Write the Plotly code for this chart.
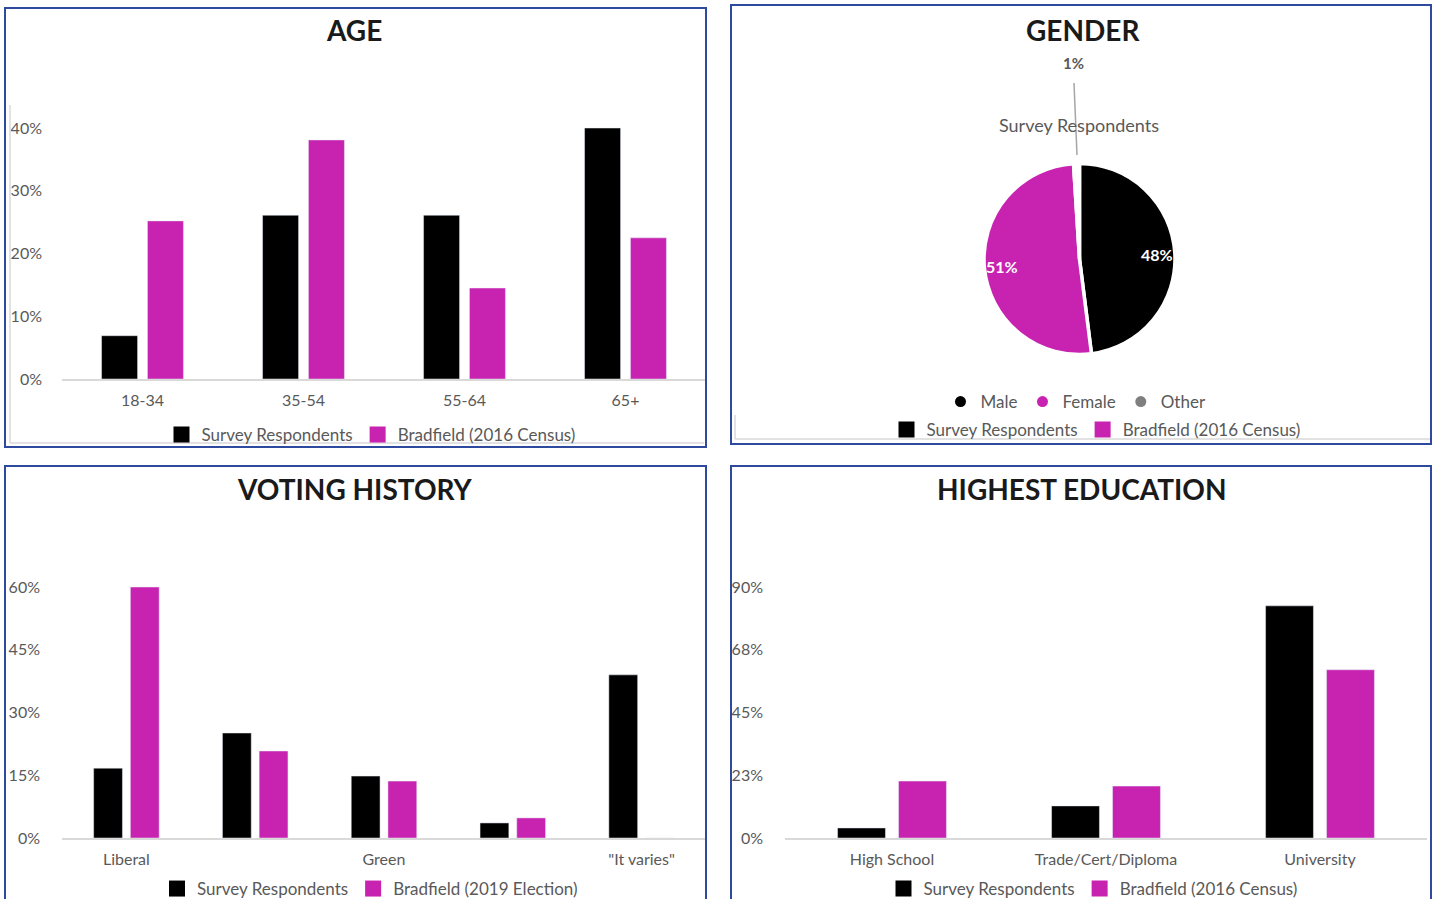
import math
import plotly.graph_objects as go

# ---------------- data ----------------
age_categories = ["18-34", "35-54", "55-64", "65+"]
age_survey = [0.069, 0.261, 0.261, 0.400]
age_census = [0.252, 0.381, 0.145, 0.225]

gender_labels = ["Male", "Female", "Other"]
gender_survey = [48, 51, 1]

vote_categories = ["Liberal", "Labor", "Green", "Other", "\"It varies\""]
vote_shown_ticks = ["Liberal", "Green", "\"It varies\""]
vote_survey = [0.167, 0.251, 0.148, 0.036, 0.390]
vote_election = [0.600, 0.208, 0.136, 0.048, 0.0]

edu_categories = ["High School", "Trade/Cert/Diploma", "University"]
edu_survey = [0.036, 0.115, 0.832]
edu_census = [0.204, 0.186, 0.603]
edu_tickvals = [0, 0.225, 0.45, 0.675, 0.9]
edu_ticktext = ["0%", "23%", "45%", "68%", "90%"]

age_ticks = [0, 0.1, 0.2, 0.3, 0.4]
vote_ticks = [0, 0.15, 0.30, 0.45, 0.60]

series_survey = "Survey Respondents"
series_census_2016 = "Bradfield (2016 Census)"
series_election_2019 = "Bradfield (2019 Election)"

# ---------------- style ----------------
W, H = 1437, 899
BLACK = "#000000"
MAGENTA = "#C822B0"
OTHER_GRAY = "#7F7F7F"
GRAY_TXT = "#595959"
BORDER = "#2D4A9E"
FAINT = "#D9D9D9"
FONT = "Lato"


def X(px):
    return px / W


def Y(py):
    return 1 - py / H


fig = go.Figure()

# ---- AGE bars ----
fig.add_trace(go.Bar(x=age_categories, y=age_survey, name=series_survey,
                     marker_color=BLACK, xaxis="x", yaxis="y", showlegend=False))
fig.add_trace(go.Bar(x=age_categories, y=age_census, name=series_census_2016,
                     marker_color=MAGENTA, xaxis="x", yaxis="y", showlegend=False))

# ---- VOTING bars ----
fig.add_trace(go.Bar(x=vote_categories, y=vote_survey, name=series_survey,
                     marker_color=BLACK, xaxis="x2", yaxis="y2", showlegend=False))
fig.add_trace(go.Bar(x=vote_categories, y=vote_election, name=series_election_2019,
                     marker_color=MAGENTA, xaxis="x2", yaxis="y2", showlegend=False))

# ---- EDUCATION bars ----
fig.add_trace(go.Bar(x=edu_categories, y=edu_survey, name=series_survey,
                     marker_color=BLACK, xaxis="x3", yaxis="y3", showlegend=False))
fig.add_trace(go.Bar(x=edu_categories, y=edu_census, name=series_census_2016,
                     marker_color=MAGENTA, xaxis="x3", yaxis="y3", showlegend=False))

# ---- GENDER pie ----
pie_cx, pie_cy, pie_r = 1079.5, 259, 95.5
pie_colors = [BLACK, MAGENTA, "#FFFFFF"]
fig.add_trace(go.Pie(
    labels=gender_labels, values=gender_survey, sort=False, direction="clockwise",
    rotation=0, marker=dict(colors=pie_colors, line=dict(color="white", width=3.5)),
    textinfo="none", hoverinfo="label+percent", showlegend=False,
    domain=dict(x=[X(pie_cx - pie_r), X(pie_cx + pie_r)],
                y=[Y(pie_cy + pie_r), Y(pie_cy - pie_r)]),
))


# ---- legend entries (square / circle symbols) ----
def legend_entry(name, color, legend, symbol="square", size=18):
    fig.add_trace(go.Scatter(x=[None], y=[None], mode="markers", name=name,
                             marker=dict(symbol=symbol, size=size, color=color),
                             xaxis="x", yaxis="y", legend=legend, hoverinfo="skip"))


legend_entry(series_survey, BLACK, "legend")
legend_entry(series_census_2016, MAGENTA, "legend")
for lab, col in zip(gender_labels, [BLACK, MAGENTA, OTHER_GRAY]):
    legend_entry(lab, col, "legend3", symbol="circle", size=11)
legend_entry(series_survey, BLACK, "legend2")
legend_entry(series_census_2016, MAGENTA, "legend2")
legend_entry(series_survey, BLACK, "legend4")
legend_entry(series_election_2019, MAGENTA, "legend4")
legend_entry(series_survey, BLACK, "legend5")
legend_entry(series_census_2016, MAGENTA, "legend5")

legend_font = dict(family=FONT, size=17, color=GRAY_TXT)


def legend_cfg(cx, cy):
    return dict(orientation="h", x=X(cx), y=Y(cy), xanchor="center", yanchor="middle",
                font=legend_font, bgcolor="rgba(0,0,0,0)", itemclick=False,
                itemdoubleclick=False, tracegroupgap=0, itemsizing="trace")


tick_font = dict(family=FONT, size=16, color=GRAY_TXT)


def xax(domain_px, anchor):
    return dict(domain=[X(domain_px[0]), X(domain_px[1])], anchor=anchor,
                showline=True, linecolor=FAINT, linewidth=2, showgrid=False,
                zeroline=False, ticks="", tickfont=tick_font, ticklabelstandoff=6,
                fixedrange=True)


def yax(top_px, bottom_px, rng, tickvals, ticktext, standoff, anchor):
    return dict(domain=[Y(bottom_px), Y(top_px)], range=rng, anchor=anchor,
                showline=False, showgrid=False, zeroline=False, ticks="",
                tickmode="array", tickvals=tickvals, ticktext=ticktext,
                tickfont=tick_font, ticklabelstandoff=standoff, fixedrange=True)


pct = lambda vals: [f"{v:.0%}" for v in vals]

xaxis2 = xax((62, 706), "y2")
xaxis2.update(tickmode="array", tickvals=vote_shown_ticks, ticktext=vote_shown_ticks)

fig.update_layout(
    width=W, height=H, margin=dict(l=0, r=0, t=0, b=0, autoexpand=False),
    paper_bgcolor="white", plot_bgcolor="white",
    barmode="group", bargap=0.43, bargroupgap=0.215,
    font=dict(family=FONT, color=GRAY_TXT),
    xaxis=xax((62, 706), "y"),
    yaxis=yax(105, 379, [0, 0.4367], age_ticks, pct(age_ticks), 19, "x"),
    xaxis2=xaxis2,
    yaxis2=yax(568, 838, [0, 0.6455], vote_ticks, pct(vote_ticks), 21, "x2"),
    xaxis3=xax((785, 1427), "y3"),
    yaxis3=yax(559, 838, [0, 1.0], edu_tickvals, edu_ticktext, 21, "x3"),
    legend=legend_cfg(371, 435),
    legend2=legend_cfg(1096, 430),
    legend3=legend_cfg(1076, 402),
    legend4=legend_cfg(370, 889),
    legend5=legend_cfg(1093, 889),
    showlegend=True,
)

# ---- panel borders and faint frame lines ----
shapes = []
for (x0, y0, x1, y1) in [(5, 8, 706, 447), (731, 5, 1431, 444),
                         (5, 466, 706, 905), (731, 466, 1431, 905)]:
    shapes.append(dict(type="rect", xref="paper", yref="paper", x0=X(x0), x1=X(x1),
                       y0=Y(y1), y1=Y(y0), line=dict(color=BORDER, width=2),
                       fillcolor="rgba(0,0,0,0)", layer="above"))
faint_lines = [(10, 105, 10, 443), (10, 443, 704, 443),
               (735, 415, 735, 439), (735, 439, 1430, 439)]
for (x0, y0, x1, y1) in faint_lines:
    shapes.append(dict(type="line", xref="paper", yref="paper", x0=X(x0), x1=X(x1),
                       y0=Y(y0), y1=Y(y1), line=dict(color=FAINT, width=1.5)))
# leader line for the small "Other" slice label
shapes.append(dict(type="line", xref="paper", yref="paper", x0=X(1074), y0=Y(83),
                   x1=X(1077), y1=Y(155), line=dict(color="#A6A6A6", width=1.5)))
fig.update_layout(shapes=shapes)

# ---- titles and labels ----
ann = []
title_font = dict(family=FONT, size=28, color="#1A1A1A", weight="bold")
for text, cx, cy in [("AGE", 354, 30), ("GENDER", 1083, 30),
                     ("VOTING HISTORY", 355, 489), ("HIGHEST EDUCATION", 1081, 489)]:
    ann.append(dict(text=text, x=X(cx), y=Y(cy), xref="paper", yref="paper",
                    showarrow=False, xanchor="center", yanchor="middle", font=title_font))

# pie series title
ann.append(dict(text=series_survey, x=X(1079), y=Y(125), xref="paper", yref="paper",
                showarrow=False, xanchor="center", yanchor="middle",
                font=dict(family=FONT, size=18, color=GRAY_TXT)))

# pie data labels computed from the slice angles
total = sum(gender_survey)
cum = 0
for lab, v in zip(gender_labels, gender_survey):
    mid = (cum + v / 2) / total * 2 * math.pi
    cum += v
    share = f"{v / total:.0%}"
    if v / total < 0.05:
        ann.append(dict(text=share, x=X(1073), y=Y(63), xref="paper", yref="paper",
                        showarrow=False, xanchor="center", yanchor="middle",
                        font=dict(family=FONT, size=15, color=GRAY_TXT, weight="bold")))
        continue
    px = pie_cx + 0.81 * pie_r * math.sin(mid)
    py = pie_cy - 0.81 * pie_r * math.cos(mid)
    ann.append(dict(text=share, x=X(px), y=Y(py), xref="paper", yref="paper",
                    showarrow=False, xanchor="center", yanchor="middle",
                    font=dict(family=FONT, size=16, color="white", weight="bold")))
fig.update_layout(annotations=ann)

fig.write_html("out.html", config={"displayModeBar": False},
               post_script="document.body.style.margin='0';document.body.style.overflow='hidden';")
